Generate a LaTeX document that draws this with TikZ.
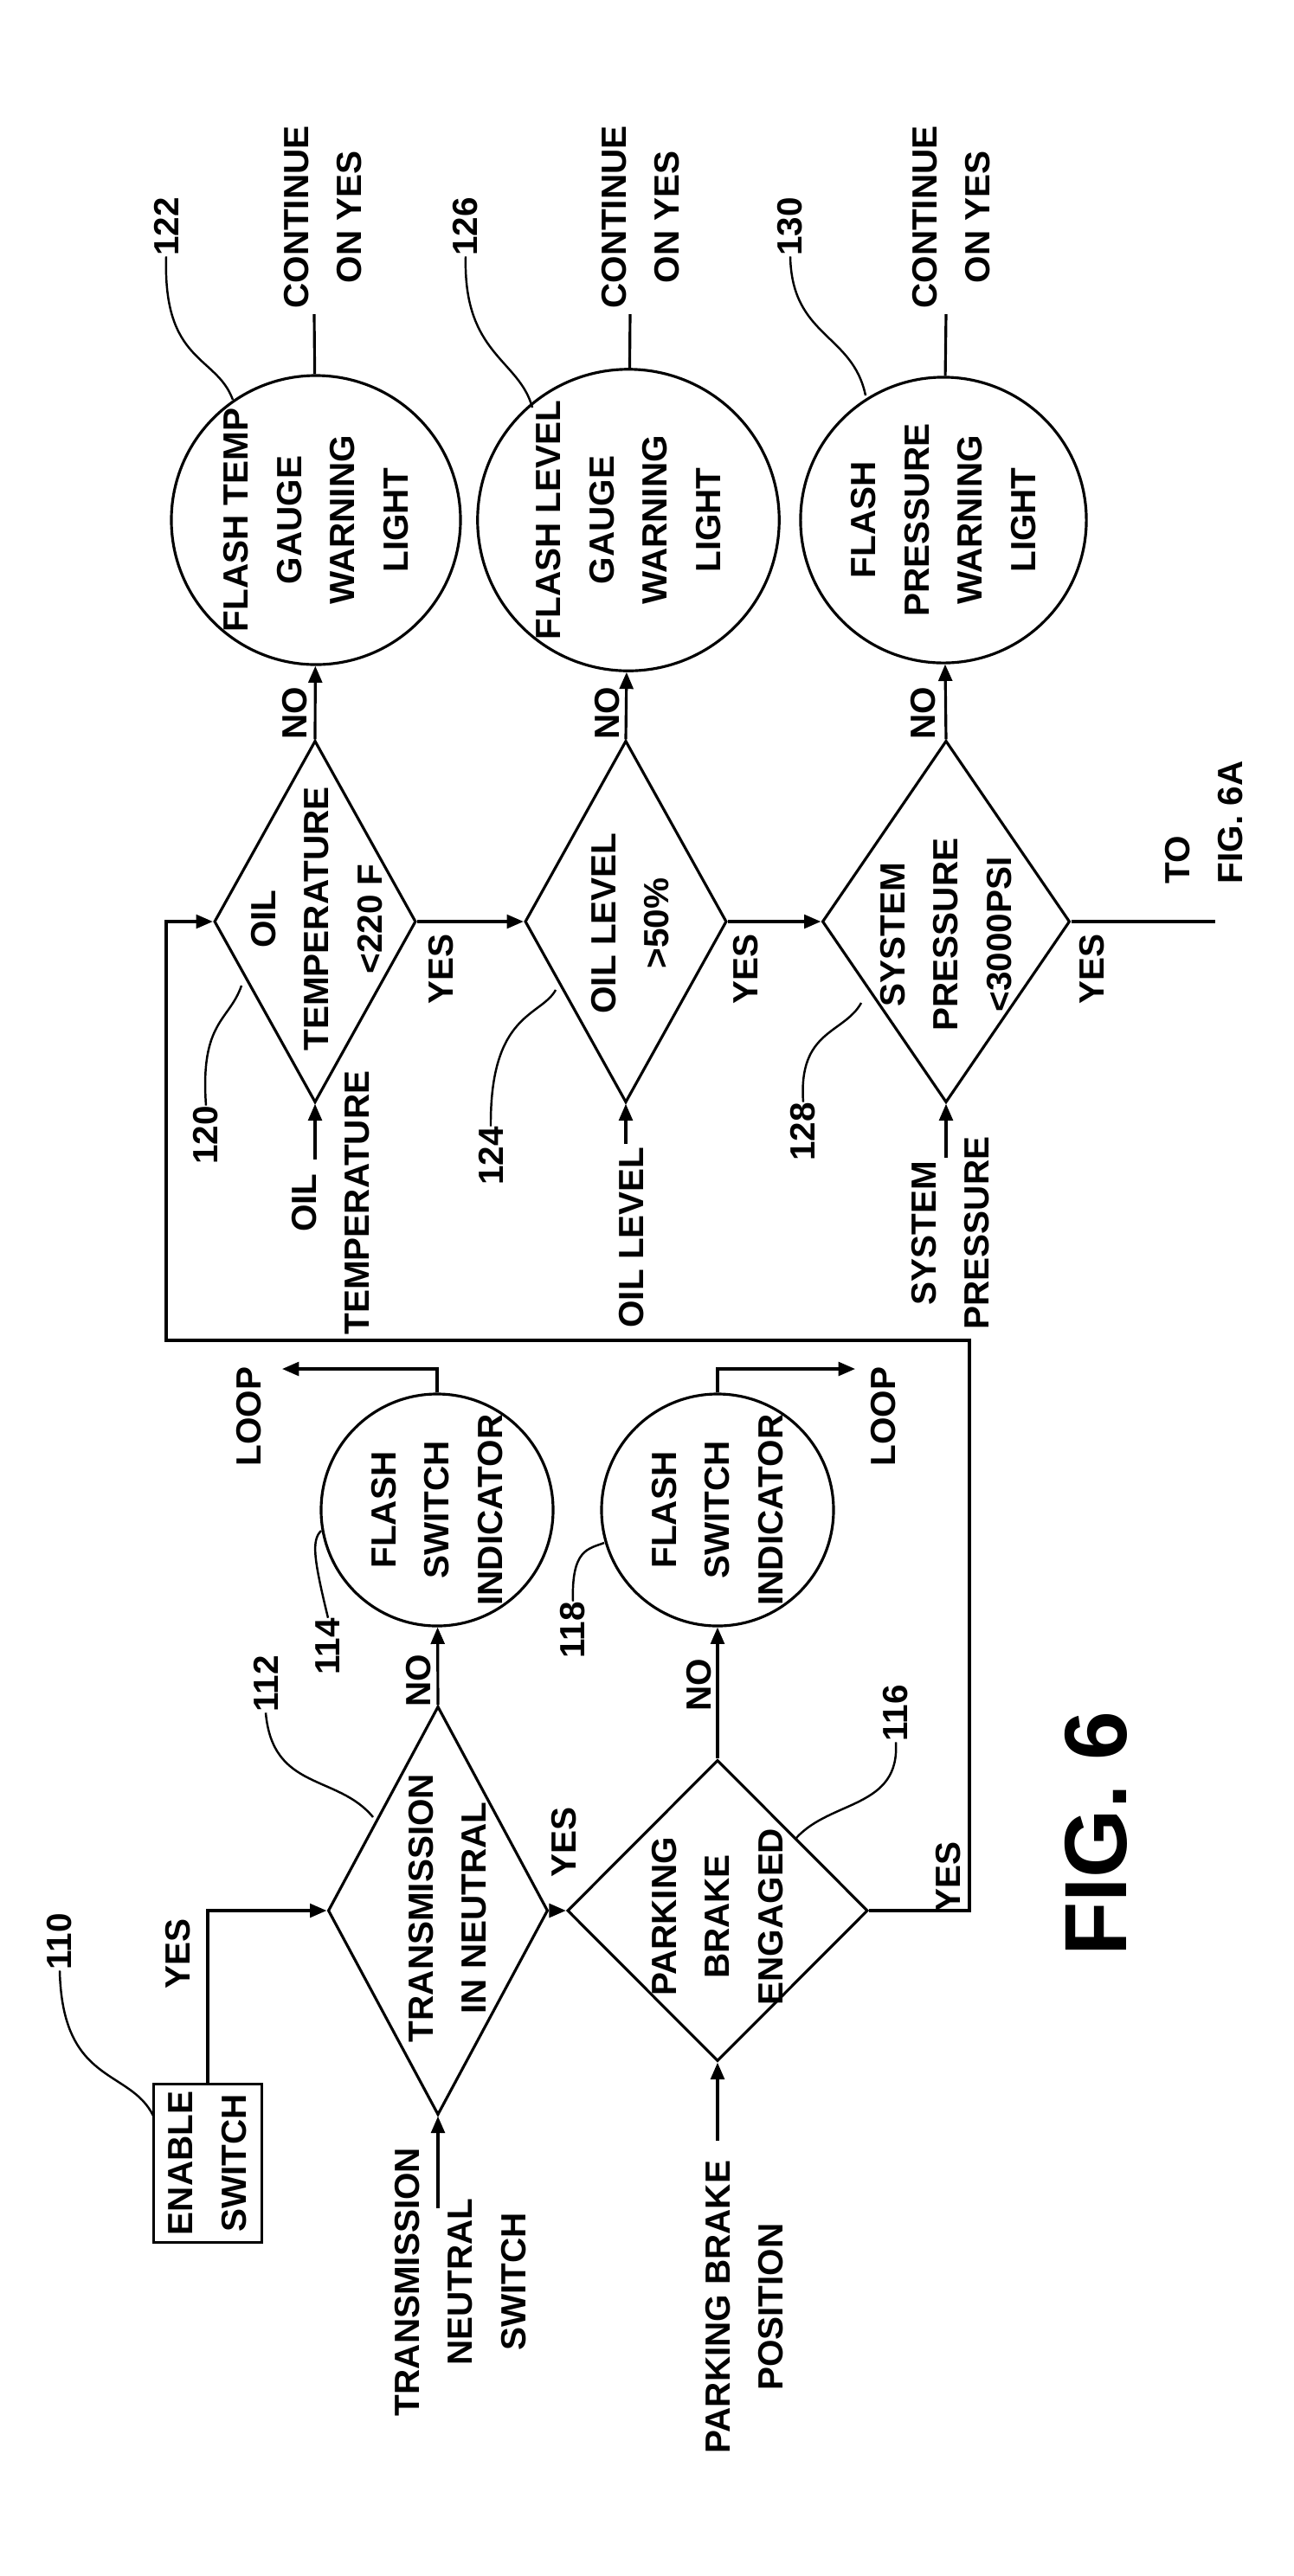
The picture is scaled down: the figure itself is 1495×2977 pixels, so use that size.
\documentclass[tikz,border=0pt]{standalone}
\usepackage{fontspec}
\setmainfont{Liberation Sans}
\usetikzlibrary{shapes.geometric,arrows.meta}
\begin{document}
\begin{tikzpicture}[x=0.01cm,y=-0.01cm,
  every node/.style={font=\bfseries\fontsize{11.5}{17.5}\selectfont},
  txt/.style={rotate=90,inner sep=0pt,align=center},
  dia/.style={diamond,draw,line width=0.9pt,inner sep=0pt},
  circ/.style={circle,draw,line width=0.9pt,rotate=90,align=center,inner sep=0pt},
  ln/.style={line width=0.9pt},
  arr/.style={line width=0.9pt,-{Triangle[length=5.5pt,width=4.5pt]}},
  lead/.style={line width=0.7pt}]
\useasboundingbox (0,0) rectangle (1495,2977);
% diamonds
\node[dia,minimum width=2.33cm,minimum height=4.18cm] (d120) at (364,1065) {};
\node[dia,minimum width=2.33cm,minimum height=4.18cm] (d124) at (723,1065) {};
\node[dia,minimum width=2.86cm,minimum height=4.18cm] (d128) at (1093,1065) {};
\node[dia,minimum width=2.54cm,minimum height=4.72cm] (d112) at (506,2208) {};
\node[dia,minimum width=3.47cm,minimum height=3.48cm] (d116) at (829,2208) {};
\node[txt] at (366,1062) {OIL\\TEMPERATURE\\<220 F};
\node[txt] at (728,1067) {OIL LEVEL\\>50\%};
\node[txt] at (1093,1080) {SYSTEM\\PRESSURE\\<3000PSI};
\node[txt] at (517,2205) {TRANSMISSION\\IN NEUTRAL};
\node[txt] at (829,2215) {PARKING\\BRAKE\\ENGAGED};
% circles
\node[circ,minimum size=3.3cm] (c122) at (365,601) {FLASH TEMP\\GAUGE\\WARNING\\LIGHT};
\node[circ,minimum size=3.3cm] (c126) at (726,601) {FLASH LEVEL\\GAUGE\\WARNING\\LIGHT};
\node[circ,minimum size=3.3cm] (c130) at (1090,601) {FLASH\\PRESSURE\\WARNING\\LIGHT};
\node[circ,minimum size=2.65cm] (c114) at (505,1745) {FLASH\\SWITCH\\INDICATOR};
\node[circ,minimum size=2.65cm] (c118) at (829,1745) {FLASH\\SWITCH\\INDICATOR};
% enable switch box
\node[draw,line width=0.9pt,rotate=90,align=center,minimum width=1.83cm,minimum height=1.25cm,inner sep=0pt] (en) at (240,2500) {ENABLE\\SWITCH};
% coordinates
\coordinate (t122) at (363,363);
\coordinate (t126) at (728,363);
\coordinate (t130) at (1093,363);
\coordinate (i120) at (364,1340);
\coordinate (i124) at (723,1322);
\coordinate (i128) at (1093,1338);
\coordinate (i112) at (506,2552);
\coordinate (i116) at (829,2474);
\coordinate (to6a) at (1404,1065);
\coordinate (lp1) at (1120,1549);
\coordinate (lp2) at (192,1549);
\coordinate (loopL) at (326,1582);
\coordinate (loopR) at (988,1582);
% connectors
\draw[arr] (d120.north) -- (c122);
\draw[arr] (d124.north) -- (c126);
\draw[arr] (d128.north) -- (c130);
\draw[ln] (c122) -- (t122);
\draw[ln] (c126) -- (t126);
\draw[ln] (c130) -- (t130);
\draw[arr] (d120.east) -- (d124.west);
\draw[arr] (d124.east) -- (d128.west);
\draw[ln] (d128.east) -- (to6a);
\draw[arr] (i120) -- (d120.south);
\draw[arr] (i124) -- (d124.south);
\draw[arr] (i128) -- (d128.south);
\draw[arr] (i112) -- (d112.south);
\draw[arr] (i116) -- (d116.south);
\draw[arr] (en.east) |- (d112.west);
\draw[arr] (d112.east) -- (d116.west);
\draw[arr] (d112.north) -- (c114);
\draw[arr] (d116.north) -- (c118);
\draw[arr] (c114.east) |- (loopL);
\draw[arr] (c118.east) |- (loopR);
\draw[arr] (d116.east) -| (lp1) -- (lp2) |- (d120.west);
% texts
\node[txt] at (373,251) {CONTINUE\\ON YES};
\node[txt] at (740,251) {CONTINUE\\ON YES};
\node[txt] at (1099,251) {CONTINUE\\ON YES};
\node[txt] at (341,824) {NO};
\node[txt] at (702,824) {NO};
\node[txt] at (1067,824) {NO};
\node[txt] at (484,1942) {NO};
\node[txt] at (808,1947) {NO};
\node[txt] at (510,1120) {YES};
\node[txt] at (862,1120) {YES};
\node[txt] at (1262,1120) {YES};
\node[txt] at (206,2258) {YES};
\node[txt] at (652,2129) {YES};
\node[txt] at (1096,2169) {YES};
\node[txt] at (288,1637) {LOOP};
\node[txt] at (1021,1637) {LOOP};
\node[txt,anchor=west,align=left] at (1391,1022) {TO\\FIG. 6A};
\node[txt] at (382,1390) {OIL\\TEMPERATURE};
\node[txt] at (730,1430) {OIL LEVEL};
\node[txt] at (1098,1425) {SYSTEM\\PRESSURE};
\node[txt] at (532,2637) {TRANSMISSION\\NEUTRAL\\SWITCH};
\node[txt] at (860,2666) {PARKING BRAKE\\POSITION};
\node[txt,font=\bfseries\fontsize{29}{34}\selectfont] at (1266,2119) {FIG. 6};
% reference numbers
\node[txt] (n122) at (192,262) {122};
\node[txt] (n126) at (538,262) {126};
\node[txt] (n130) at (913,262) {130};
\node[txt] (n120) at (238,1312) {120};
\node[txt] (n124) at (567,1336) {124};
\node[txt] (n128) at (928,1308) {128};
\node[txt] (n110) at (69,2244) {110};
\node[txt] (n112) at (307,1946) {112};
\node[txt] (n114) at (379,1903) {114};
\node[txt] (n118) at (662,1884) {118};
\node[txt] (n116) at (1035,1980) {116};
\coordinate (e122) at (269,462);
\coordinate (e126) at (615,471);
\coordinate (e130) at (1000,457);
\coordinate (e120) at (279,1139);
\coordinate (e124) at (642,1144);
\coordinate (e128) at (995,1159);
\coordinate (e110) at (177,2445);
\coordinate (e112) at (431,2100);
\coordinate (e114) at (371,1769);
\coordinate (e118) at (698,1783);
\coordinate (e116) at (920,2124);
\draw[lead] (n122.west) .. controls (188,420) and (250,410) .. (e122);
\draw[lead] (n126.west) .. controls (535,410) and (600,415) .. (e126);
\draw[lead] (n130.west) .. controls (915,390) and (985,385) .. (e130);
\draw[lead] (n120.east) .. controls (231,1180) and (265,1180) .. (e120);
\draw[lead] (n124.east) .. controls (566,1170) and (625,1175) .. (e124);
\draw[lead] (n128.east) .. controls (922,1190) and (975,1195) .. (e128);
\draw[lead] (n110.west) .. controls (72,2410) and (150,2390) .. (e110);
\draw[lead] (n112.west) .. controls (315,2070) and (390,2050) .. (e112);
\draw[lead] (n114.east) .. controls (362,1800) and (360,1780) .. (e114);
\draw[lead] (n118.east) .. controls (660,1790) and (680,1790) .. (e118);
\draw[lead] (n116.west) .. controls (1040,2090) and (960,2080) .. (e116);
\end{tikzpicture}
\end{document}
